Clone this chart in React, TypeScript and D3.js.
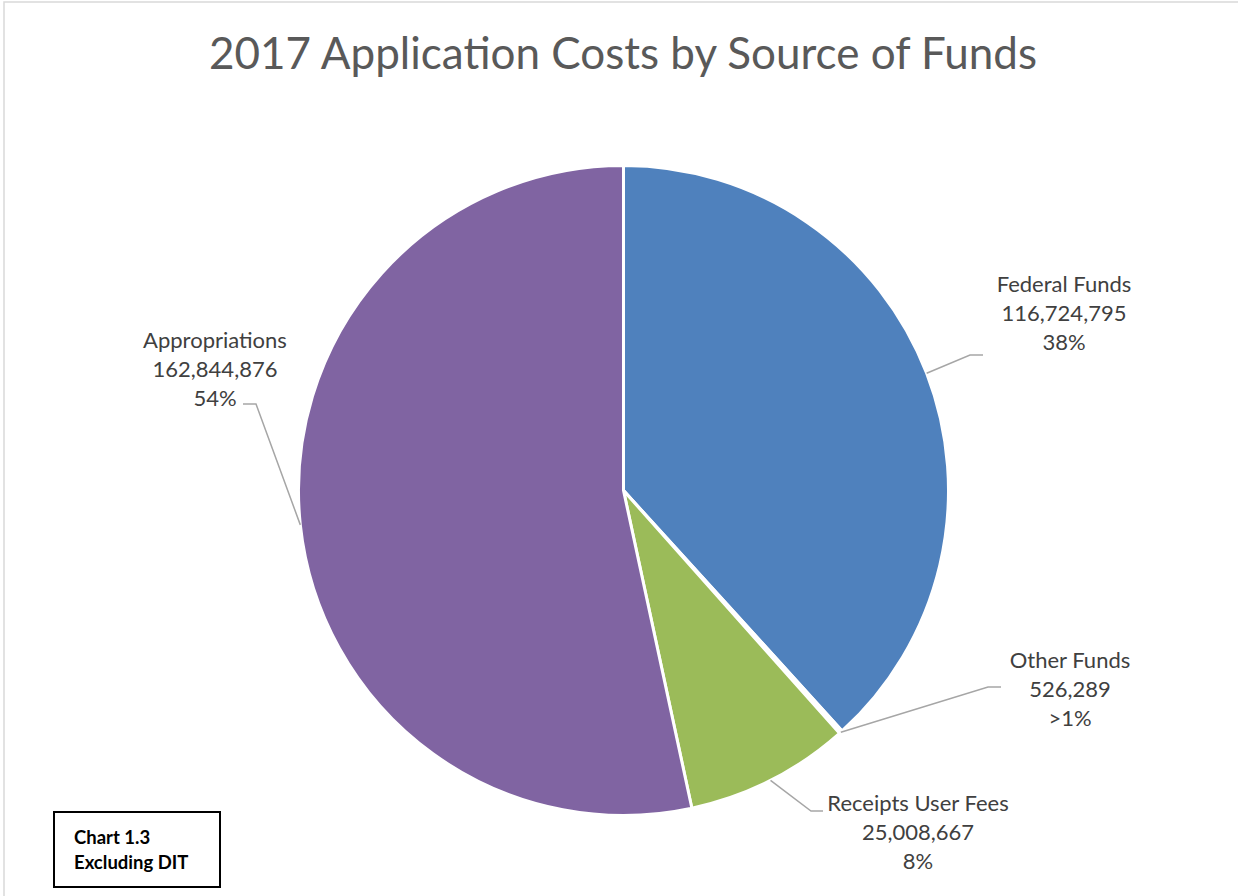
import * as d3 from "d3";

type Slice = { name: string; value: number; pct: string; color: string };

const names = ["Federal Funds", "Other Funds", "Receipts User Fees", "Appropriations"];
const values = [116724795, 526289, 25008667, 162844876];
const pctLabels = ["38%", ">1%", "8%", "54%"];
const colors = ["#4F81BD", "#FFFFFF", "#9BBB59", "#8064A2"];

// label layout: elbow point, end of leader, text centre x, first baseline
const labelLayout = [
  { elbow: [970, 355], end: [983, 355], tx: 1064, ty: 292 },
  { elbow: [988, 687], end: [1001, 687], tx: 1070, ty: 668 },
  { elbow: [811, 811], end: [823, 811], tx: 918, ty: 811 },
  { elbow: [256, 404], end: [243, 404], tx: 215, ty: 348 },
];

const slices: Slice[] = names.map((n, i) => ({
  name: n,
  value: values[i],
  pct: pctLabels[i],
  color: colors[i],
}));

const width = 1238;
const height = 896;
const cx = 623.5;
const cy = 490.5;
const radius = 325;

export default function App() {
  const pie = d3
    .pie<Slice>()
    .value((d) => d.value)
    .sort(null);
  const arcs = pie(slices);
  const arc = d3.arc<d3.PieArcDatum<Slice>>().innerRadius(0).outerRadius(radius);
  const rimArc = d3.arc<d3.PieArcDatum<Slice>>().innerRadius(radius).outerRadius(radius);
  const fmt = d3.format(",");

  return (
    <svg
      width={width}
      height={height}
      style={{ position: "absolute", left: 0, top: 0 }}
      fontFamily="Lato, 'Open Sans', sans-serif"
    >
      <rect x={0} y={0} width={width} height={height} fill="#fff" />
      <rect x={4} y={2} width={1400} height={1000} fill="none" stroke="#d9d9d9" strokeWidth={1.5} />
      <text x={623} y={69} textAnchor="middle" fontSize={44} fill="#595959">
        2017 Application Costs by Source of Funds
      </text>
      <g transform={`translate(${cx},${cy})`}>
        {arcs.map((a, i) => (
          <path key={i} d={arc(a) ?? ""} fill={a.data.color} stroke="#fff" strokeWidth={3} strokeLinejoin="round" />
        ))}
      </g>
      {arcs.map((a, i) => {
        const [sx, sy] = rimArc.centroid(a);
        const L = labelLayout[i];
        const pts: [number, number][] = [
          [sx + cx, sy + cy],
          [L.elbow[0], L.elbow[1]],
          [L.end[0], L.end[1]],
        ];
        return (
          <g key={"l" + i}>
            <path d={d3.line()(pts) ?? ""} fill="none" stroke="#a6a6a6" strokeWidth={1.5} />
            <text textAnchor="middle" fontSize={22} fill="#404040">
              <tspan x={L.tx} y={L.ty}>{a.data.name}</tspan>
              <tspan x={L.tx} y={L.ty + 29}>{fmt(a.data.value)}</tspan>
              <tspan x={L.tx} y={L.ty + 58}>{a.data.pct}</tspan>
            </text>
          </g>
        );
      })}
      <rect x={54} y={812} width={166} height={75} fill="#fff" stroke="#000" strokeWidth={2} />
      <text fontSize={18.5} fontWeight="bold" fill="#000">
        <tspan x={74} y={844}>Chart 1.3</tspan>
        <tspan x={74} y={869}>Excluding DIT</tspan>
      </text>
    </svg>
  );
}
